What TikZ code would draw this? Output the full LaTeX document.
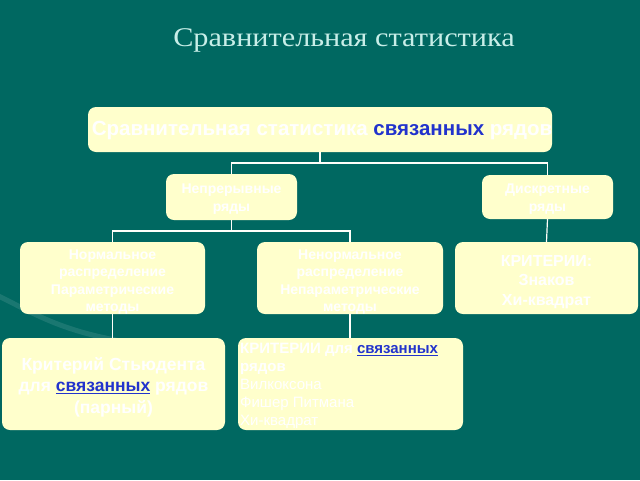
\documentclass[tikz,border=0pt]{standalone}
\usepackage{fontspec}
\setmainfont{Liberation Serif}
\setsansfont{Liberation Sans}
\definecolor{bgteal}{HTML}{006861}
\definecolor{boxfill}{HTML}{FFFFCC}
\definecolor{titlecol}{HTML}{C8EEE8}
\definecolor{linkblue}{HTML}{2233CC}
\newcommand{\lnk}[1]{\textcolor{linkblue}{#1}}
\newcommand{\lnku}[1]{\textcolor{linkblue}{\underline{#1}}}
\begin{document}
\begin{tikzpicture}[x=1pt,y=-1pt,
  box/.style={draw=none,fill=boxfill,rounded corners=8pt},
  btxt/.style={text=white,inner sep=0pt,align=center},
  conn/.style={draw=white!90!boxfill,line width=1.2pt}]
\fill[bgteal] (0,0) rectangle (640,480);
\useasboundingbox (0,0) rectangle (640,480);
% faint decorative curve
\draw[white,opacity=0.10,line width=5pt] (-10,292) .. controls (30,310) and (60,335) .. (150,345);

\node[font=\fontsize{27}{30}\selectfont,text=titlecol] (title) at (344,40) {\scalebox{1.12}[1]{Сравнительная статистика}};

\path[box] (88,107) rectangle (552,152);
\node[btxt,font=\sffamily\bfseries\fontsize{20.5}{23}\selectfont] (top) at (322,130) {Сравнительная статистика \lnk{связанных} рядов};
\coordinate (topb) at (320,152);

\path[box] (166,174) rectangle (297,220);
\node[btxt,font=\sffamily\bfseries\fontsize{14}{18}\selectfont] (cont) at (231.5,199) {Непрерывные\\ряды};
\coordinate (contt) at (231.5,174); \coordinate (contb) at (231.5,220);

\path[box] (482,175) rectangle (613,219);
\node[btxt,font=\sffamily\bfseries\fontsize{14}{18}\selectfont] (disc) at (547.5,199) {Дискретные\\ряды};
\coordinate (disct) at (547.5,175); \coordinate (discb) at (547.5,219);

\path[box] (20,242) rectangle (205,314);
\node[btxt,font=\sffamily\bfseries\fontsize{14}{17.5}\selectfont] (norm) at (112.5,282) {Нормальное\\распределение\\Параметрические\\методы};
\coordinate (normt) at (112.5,242); \coordinate (normb) at (112.5,314);

\path[box] (257,242) rectangle (443,314);
\node[btxt,font=\sffamily\bfseries\fontsize{14}{17.5}\selectfont] (nonn) at (350,282) {Ненормальное\\распределение\\Непараметрические\\методы};
\coordinate (nonnt) at (350,242); \coordinate (nonnb) at (350,314);

\path[box] (455,242) rectangle (638,314);
\node[btxt,font=\sffamily\bfseries\fontsize{16}{19.5}\selectfont] (crit) at (546.5,282) {КРИТЕРИИ:\\Знаков\\Хи-квадрат};
\coordinate (critt) at (546.5,242);

\path[box] (2,338) rectangle (225,430);
\node[btxt,font=\sffamily\bfseries\fontsize{17.5}{21.5}\selectfont] (stud) at (113.5,387) {Критерий Стьюдента\\для \lnku{связанных} рядов\\(парный)};
\coordinate (studt) at (112.5,338);

\path[box] (238,338) rectangle (463,430);
\node[btxt,font=\sffamily\fontsize{15}{18}\selectfont,align=left,anchor=west] (crit2) at (240,386) {\textbf{КРИТЕРИИ для \lnku{связанных}}\\\textbf{рядов}\\Вилкоксона\\Фишер Питмана\\Хи-квадрат};
\coordinate (crit2t) at (350,338);

% connectors
\draw[conn] (topb) -- (320,163);
\draw[conn] (contt) |- (320,163) -| (disct);
\draw[conn] (contb) -- (231.5,231);
\draw[conn] (normt) |- (231.5,231) -| (nonnt);
\draw[conn] (discb) -- (critt);
\draw[conn] (normb) -- (studt);
\draw[conn] (nonnb) -- (crit2t);
\end{tikzpicture}
\end{document}
